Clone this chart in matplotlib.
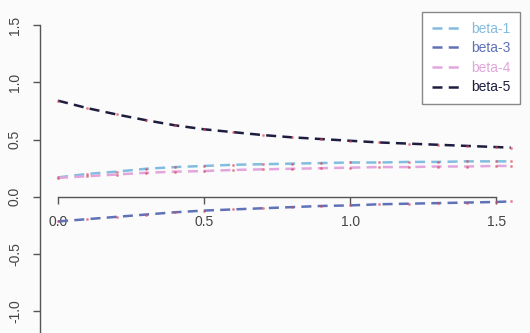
import matplotlib
matplotlib.use('Agg')
import matplotlib.pyplot as plt
import numpy as np

plt.rcParams['font.family'] = ['Liberation Sans', 'DejaVu Sans']

# grid of x values and the four coefficient paths
x = [0.0, 0.1, 0.2, 0.3, 0.4, 0.5, 0.6, 0.7, 0.8, 0.9, 1.0, 1.1, 1.2, 1.3, 1.4, 1.5, 1.55]
beta1 = [0.17, 0.20, 0.22, 0.245, 0.26, 0.27, 0.28, 0.285, 0.29, 0.295, 0.30, 0.30, 0.305, 0.305, 0.31, 0.31, 0.31]
beta3 = [-0.215, -0.195, -0.175, -0.155, -0.135, -0.12, -0.11, -0.10, -0.09, -0.08, -0.075, -0.065, -0.06, -0.055, -0.05, -0.045, -0.04]
beta4 = [0.165, 0.18, 0.195, 0.21, 0.22, 0.225, 0.235, 0.24, 0.245, 0.25, 0.255, 0.26, 0.26, 0.265, 0.265, 0.27, 0.27]
beta5 = [0.84, 0.775, 0.72, 0.67, 0.625, 0.59, 0.565, 0.54, 0.52, 0.505, 0.49, 0.475, 0.465, 0.455, 0.445, 0.435, 0.43]

labels = ['beta-1', 'beta-3', 'beta-4', 'beta-5']
colors = ['#82bde0', '#5f72b8', '#e2a6dc', '#1d1d40']
xticks = [0.0, 0.5, 1.0, 1.5]
yticks = [-1.0, -0.5, 0.0, 0.5, 1.0, 1.5]

fig = plt.figure(figsize=(5.3, 3.33), dpi=100, facecolor='#fbfbfb')
ax = fig.add_axes([0, 0, 1, 1], facecolor='#fbfbfb')

for ys, col, lab in zip([beta1, beta3, beta4, beta5], colors, labels):
    ax.plot(x, ys, color=col, lw=1.8, dashes=(4, 2.5), label=lab)
    # faint red points on top of the paths
    ax.plot(x, ys, color='#d9455a', lw=0, marker='.', ms=2.5, alpha=0.45)

ax.set_xlim(-0.199, 1.616)
ax.set_ylim(-1.19, 1.72)

for s in ['top', 'right']:
    ax.spines[s].set_visible(False)
ax.spines['left'].set_position(('data', -0.062))
ax.spines['left'].set_bounds(-1.19, 1.5)
ax.spines['bottom'].set_position(('data', 0.0))
ax.spines['bottom'].set_bounds(0.0, 1.5)
for s in ['left', 'bottom']:
    ax.spines[s].set_color('#555555')
    ax.spines[s].set_linewidth(1.0)

ax.set_xticks(xticks)
ax.set_xticklabels([f'{t:.1f}' for t in xticks])
ax.set_yticks(yticks)
ax.set_yticklabels([f'{t:.1f}' for t in yticks], rotation=90, va='center')
ax.tick_params(axis='both', direction='out', length=5, width=1.0, color='#555555',
               labelsize=10, labelcolor='#444444')
ax.tick_params(axis='x', pad=8)
ax.tick_params(axis='y', pad=8)

leg = ax.legend(loc='upper right', bbox_to_anchor=(0.981, 0.964), borderaxespad=0,
                fancybox=False, edgecolor='#888888', fontsize=10, handlelength=2.0,
                handletextpad=0.8, labelspacing=0.4, borderpad=0.7,
                facecolor='white', framealpha=1)
for txt, col in zip(leg.get_texts(), colors):
    txt.set_color(col)

fig.savefig('out.png', dpi=100, facecolor=fig.get_facecolor())
